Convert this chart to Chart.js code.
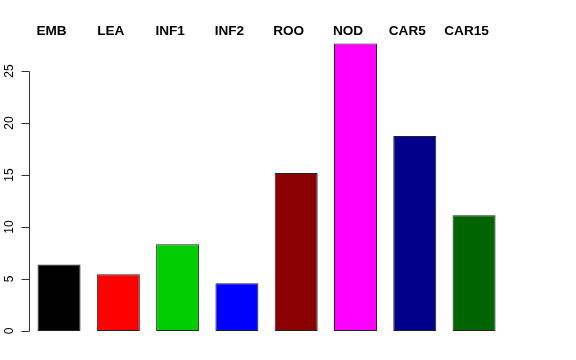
<!DOCTYPE html>
<html>
<head>
<meta charset="utf-8">
<script src="https://cdn.jsdelivr.net/npm/chart.js@4/dist/chart.umd.min.js"></script>
<style>
html,body{margin:0;padding:0;background:#fff;}
canvas{display:block;}
</style>
</head>
<body>
<canvas id="c" width="576" height="360"></canvas>
<script>
const categories = ["EMB","LEA","INF1","INF2","ROO","NOD","CAR5","CAR15"];
const values = [6.4, 5.45, 8.35, 4.6, 15.2, 27.65, 18.75, 11.12];
const barColors = ["#000000","#FF0000","#00CD00","#0000FF","#8B0000","#FF00FF","#00008B","#006400"];
const yTicks = [0,5,10,15,20,25];

const axisPlugin = {
  id: 'rAxis',
  afterDraw(chart) {
    const ctx = chart.ctx;
    const y = chart.scales.y;
    const x = chart.scales.x;
    const ax = 29.5;
    ctx.save();
    ctx.strokeStyle = '#333';
    ctx.lineWidth = 1;
    ctx.beginPath();
    ctx.moveTo(ax, Math.round(y.getPixelForValue(yTicks[0])) + 0.5);
    ctx.lineTo(ax, Math.round(y.getPixelForValue(yTicks[yTicks.length-1])) + 0.5);
    yTicks.forEach(v => {
      const py = Math.round(y.getPixelForValue(v)) + 0.5;
      ctx.moveTo(ax, py);
      ctx.lineTo(ax - 8, py);
    });
    ctx.stroke();
    ctx.fillStyle = '#000';
    ctx.font = '12px "Liberation Sans", Arial, sans-serif';
    ctx.textAlign = 'center';
    ctx.textBaseline = 'alphabetic';
    yTicks.forEach(v => {
      const py = y.getPixelForValue(v);
      ctx.save();
      ctx.translate(13, py);
      ctx.rotate(-Math.PI/2);
      ctx.fillText(String(v), 0, 0);
      ctx.restore();
    });
    ctx.font = 'bold 13.6px "Liberation Sans", Arial, sans-serif';
    ctx.textAlign = 'center';
    categories.forEach((c, i) => {
      const px = x.getPixelForValue(i) - 7.5;
      ctx.fillText(c, px, 35);
    });
    ctx.restore();
  }
};

new Chart(document.getElementById('c'), {
  type: 'bar',
  data: {
    labels: categories,
    datasets: [{
      data: values,
      backgroundColor: barColors,
      borderColor: '#222',
      borderWidth: 1,
      borderSkipped: false,
      barPercentage: 0.725,
      categoryPercentage: 1.0
    }]
  },
  options: {
    responsive: false,
    animation: false,
    devicePixelRatio: 1,
    layout: { padding: { left: 29.4, right: 72.3, top: 34.6, bottom: 29 } },
    plugins: { legend: { display: false }, tooltip: { enabled: false } },
    scales: {
      x: { display: false },
      y: { display: false, min: 0, max: 28.5 }
    }
  },
  plugins: [axisPlugin]
});
</script>
</body>
</html>
